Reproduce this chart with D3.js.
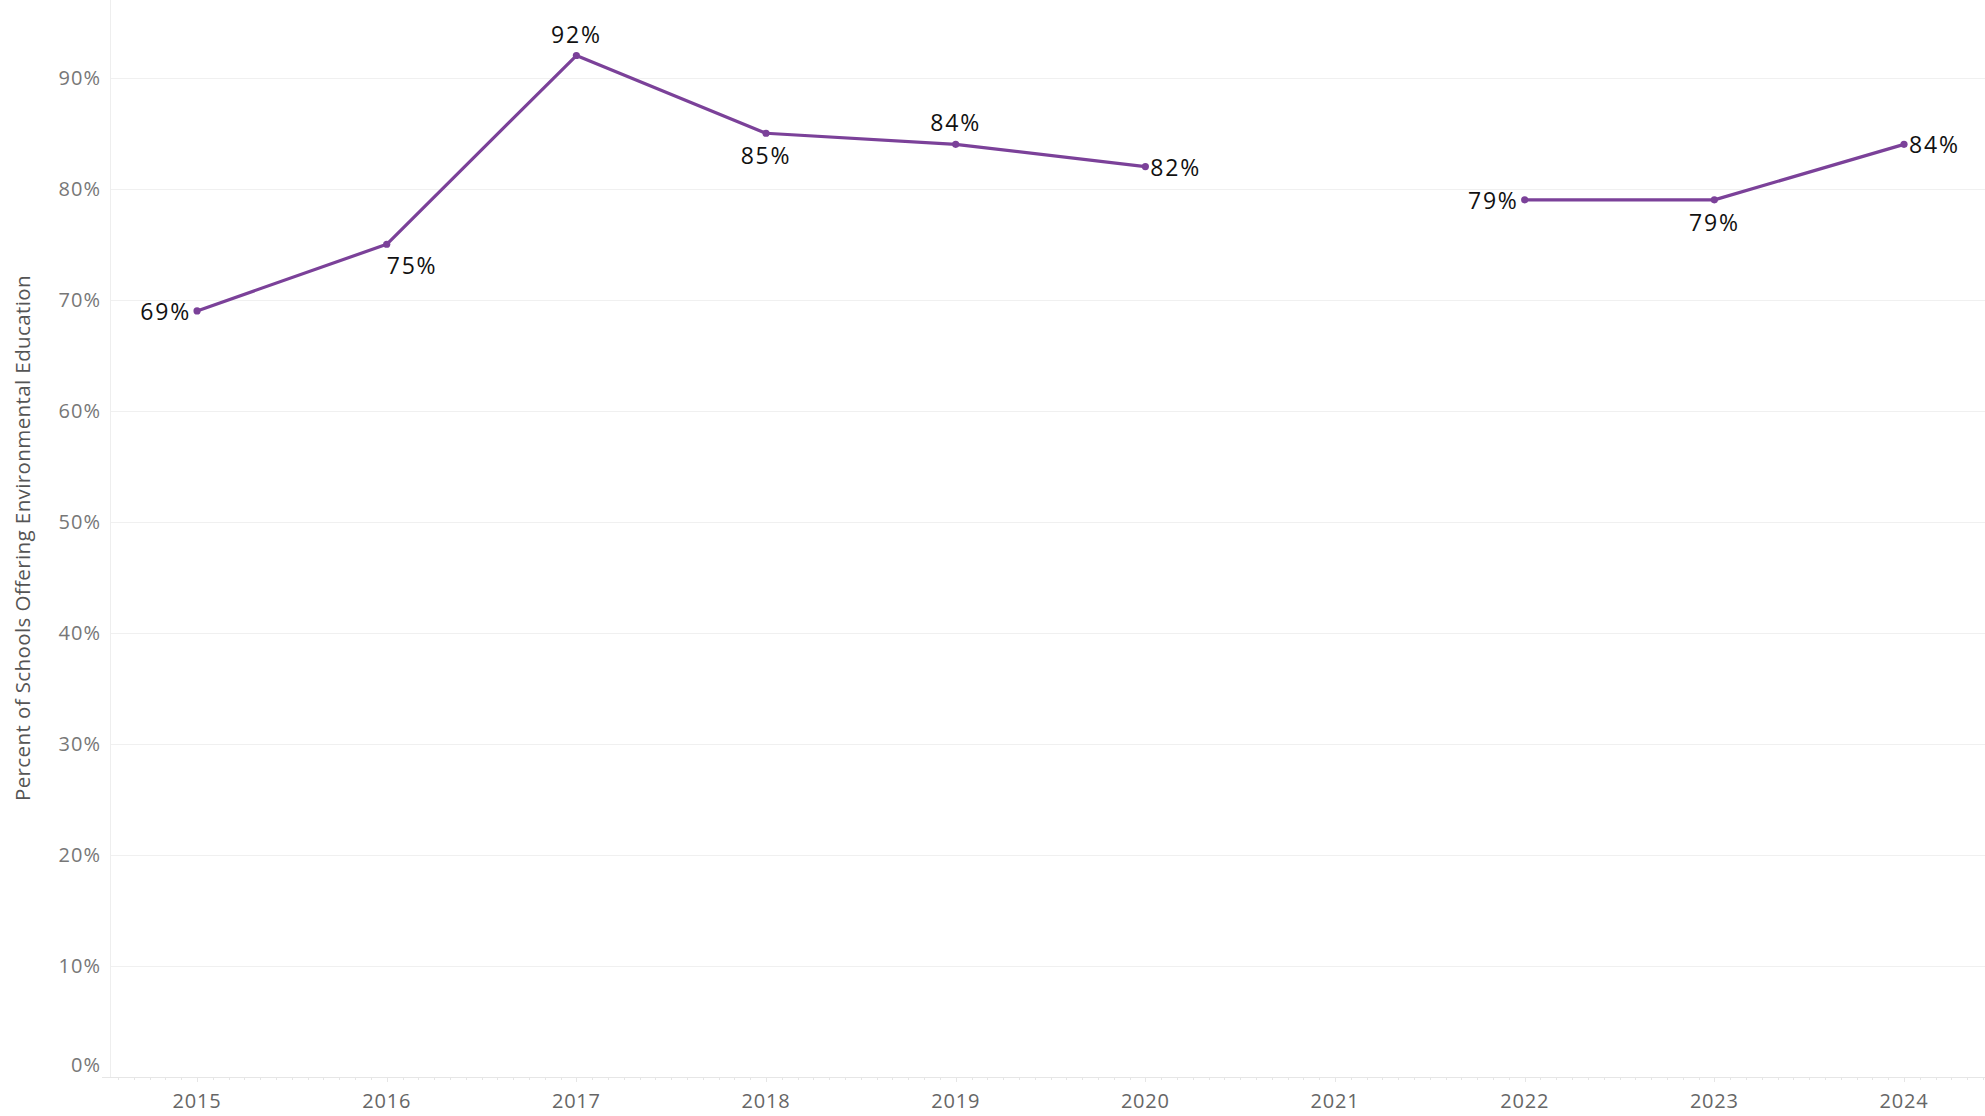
<!DOCTYPE html>
<html>
<head>
<meta charset="utf-8">
<script src="https://cdn.jsdelivr.net/npm/d3@7"></script>
<style>
  body { margin: 0; background: #fff; }
  svg { display: block; font-family: "Open Sans", sans-serif; }
  .grid line { stroke: #f0f0f0; stroke-width: 1; }
  .y-tick { fill: #777; font-size: 20px; letter-spacing: 1px; }
  .x-tick { fill: #666; font-size: 20px; letter-spacing: 0.8px; }
  .axis-title { fill: #555; font-size: 20.5px; letter-spacing: 0.4px; }
  .value-label { fill: #111; font-size: 23px; letter-spacing: 1.8px; }
</style>
</head>
<body>
<div id="wrapper"></div>
<script>

// data
const years = [2015, 2016, 2017, 2018, 2019, 2020, 2021, 2022, 2023, 2024]
const values = [69, 75, 92, 85, 84, 82, null, 79, 79, 84]
// where each value label sits relative to its point
const labelSides = ["left", "below-right", "above", "below", "above", "right", null, "left", "below", "right"]
const yTicks = [0, 10, 20, 30, 40, 50, 60, 70, 80, 90]

const dataset = years.map((y, i) => ({year: y, value: values[i], side: labelSides[i]}))

const xAccessor = d => d.year
const yAccessor = d => d.value

let dimensions = {
  width: 1985,
  height: 1116,
  margin: {
    top: 0,
    right: 0,
    bottom: 39,
    left: 110,
  },
}
dimensions.boundedWidth = dimensions.width - dimensions.margin.left - dimensions.margin.right
dimensions.boundedHeight = dimensions.height - dimensions.margin.top - dimensions.margin.bottom

const wrapper = d3.select("#wrapper")
  .append("svg")
    .attr("width", dimensions.width)
    .attr("height", dimensions.height)

const bounds = wrapper.append("g")
  .attr("transform", `translate(${dimensions.margin.left},${dimensions.margin.top})`)

// scales
const xScale = d3.scaleLinear()
  .domain([2014.541, 2024.427])
  .range([0, dimensions.boundedWidth])

const yScale = d3.scaleLinear()
  .domain([0, 97])
  .range([dimensions.boundedHeight, 0])

// gridlines
const grid = bounds.append("g").attr("class", "grid")
grid.selectAll("line.h")
  .data(yTicks.filter(t => t > 0))
  .join("line")
    .attr("class", "h")
    .attr("x1", 0)
    .attr("x2", dimensions.boundedWidth)
    .attr("y1", d => Math.round(yScale(d)) + 0.5)
    .attr("y2", d => Math.round(yScale(d)) + 0.5)

// left axis line
bounds.append("line")
  .attr("x1", 0.5).attr("x2", 0.5)
  .attr("y1", 0).attr("y2", dimensions.boundedHeight)
  .attr("stroke", "#eeeeee")

// bottom axis line
bounds.append("line")
  .attr("x1", -8).attr("x2", dimensions.boundedWidth)
  .attr("y1", dimensions.boundedHeight + 0.5).attr("y2", dimensions.boundedHeight + 0.5)
  .attr("stroke", "#e6e6e6")

// monthly minor ticks + yearly major ticks
const monthTicks = d3.range(Math.ceil(2014.541 * 12), Math.floor(2024.427 * 12) + 1).map(m => m / 12)
bounds.append("g")
  .selectAll("line")
  .data(monthTicks)
  .join("line")
    .attr("x1", d => Math.round(xScale(d)) + 0.5)
    .attr("x2", d => Math.round(xScale(d)) + 0.5)
    .attr("y1", dimensions.boundedHeight)
    .attr("y2", d => dimensions.boundedHeight + (Math.abs(d - Math.round(d)) < 1e-6 ? 5 : 3))
    .attr("stroke", "#e6e6e6")

// y tick labels
bounds.append("g")
  .selectAll("text")
  .data(yTicks)
  .join("text")
    .attr("class", "y-tick")
    .attr("x", -9)
    .attr("y", d => d === 0 ? yScale(d) - 12 : yScale(d))
    .attr("dy", "0.35em")
    .attr("text-anchor", "end")
    .text(d => d + "%")

// x tick labels
bounds.append("g")
  .selectAll("text")
  .data(years)
  .join("text")
    .attr("class", "x-tick")
    .attr("x", d => xScale(d))
    .attr("y", dimensions.boundedHeight + 24)
    .attr("dy", "0.35em")
    .attr("text-anchor", "middle")
    .text(d => d)

// y axis title
wrapper.append("text")
  .attr("class", "axis-title")
  .attr("transform", `translate(30, ${dimensions.margin.top + 538}) rotate(-90)`)
  .attr("text-anchor", "middle")
  .text("Percent of Schools Offering Environmental Education")

// line
const lineGenerator = d3.line()
  .defined(d => d.value !== null)
  .x(d => xScale(xAccessor(d)))
  .y(d => yScale(yAccessor(d)))

bounds.append("path")
  .datum(dataset)
  .attr("d", lineGenerator)
  .attr("fill", "none")
  .attr("stroke", "#7b4199")
  .attr("stroke-width", 3.2)
  .attr("stroke-linejoin", "round")

const points = dataset.filter(d => d.value !== null)

bounds.selectAll("circle")
  .data(points)
  .join("circle")
    .attr("cx", d => xScale(xAccessor(d)))
    .attr("cy", d => yScale(yAccessor(d)))
    .attr("r", 3.6)
    .attr("fill", "#7b4199")

// value labels
const offsets = {
  "left":        {dx: -6,  dy: 1,   anchor: "end"},
  "right":       {dx: 5,   dy: 1,   anchor: "start"},
  "above":       {dx: 0,   dy: -21, anchor: "middle"},
  "below":       {dx: 0,   dy: 23,  anchor: "middle"},
  "below-right": {dx: 0,   dy: 22,  anchor: "start"},
}

bounds.selectAll(".value-label")
  .data(points)
  .join("text")
    .attr("class", "value-label")
    .attr("x", d => xScale(xAccessor(d)) + offsets[d.side].dx)
    .attr("y", d => yScale(yAccessor(d)) + offsets[d.side].dy)
    .attr("dy", "0.35em")
    .attr("text-anchor", d => offsets[d.side].anchor)
    .text(d => d.value + "%")

</script>
</body>
</html>
